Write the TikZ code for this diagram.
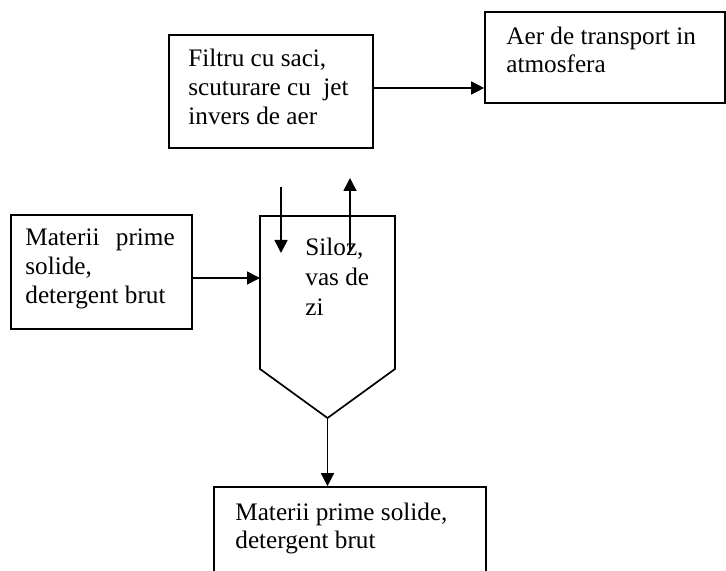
\documentclass[tikz,border=0pt]{standalone}
\usepackage{fontspec}
\setmainfont{Liberation Serif}
\usetikzlibrary{arrows.meta,fit}
\begin{document}
\begin{tikzpicture}[x=0.5pt,y=-0.5pt,
  box/.style={draw,line width=0.85pt,inner sep=0pt},
  lbl/.style={anchor=base west,align=left,inner sep=0pt,font=\fontsize{12.6}{14.3}\selectfont},
  flow/.style={line width=0.8pt,-{Triangle[length=6.5pt,width=6.5pt]}}]
\useasboundingbox (0,0) rectangle (726,571);

% process boxes
\node[box,fit={(169,35) (373,148)}] (filter) {};
\node[box,fit={(485,12) (725,103)}] (air) {};
\node[box,fit={(11,215) (192,329)}] (feed) {};
\node[box,fit={(214,487) (486,580)}] (product) {};

% silo outline
\coordinate (s-tl) at (260,216);
\coordinate (s-tr) at (395,216);
\coordinate (s-bl) at (260,369);
\coordinate (s-br) at (395,369);
\coordinate (s-tip) at (327.5,418);
\draw[line width=0.85pt] (s-bl) -- (s-tl) -- (s-tr) -- (s-br) -- (s-tip) -- cycle;

% labels (anchored at the baseline of their last line)
\node[lbl,font=\fontsize{12.6}{14.5}\selectfont] (filter-t) at (188,125) {Filtru cu saci,\\scuturare cu\ \ jet\\invers de aer};
\node[lbl,font=\fontsize{12.6}{14}\selectfont] (air-t) at (506,73) {Aer de transport in\\atmosfera};
\node[lbl] (feed-t) at (25,303) {Materii\hspace{0.4em} prime\\solide,\\detergent brut};
\node[lbl,font=\fontsize{12.6}{15}\selectfont] (silo-t) at (305,315) {Siloz,\\vas de\\zi};
\node[lbl,font=\fontsize{12.6}{14}\selectfont] (product-t) at (235,548) {Materii prime solide,\\detergent brut};

% flows
\coordinate (airlvl) at (0,88);
\coordinate (feedlvl) at (0,278);
\coordinate (in-a) at (281,187);
\coordinate (in-b) at (281,253);
\coordinate (out-a) at (350,250);
\coordinate (out-b) at (350,178);
\draw[flow] (filter.east |- airlvl) -- (air.west |- airlvl);
\draw[flow] (feed.east |- feedlvl) -- (s-tl |- feedlvl);
\draw[flow] (in-a) -- (in-b);
\draw[flow] (out-a) -- (out-b);
\draw[flow] (s-tip) -- (s-tip |- product.north);
\end{tikzpicture}
\end{document}
